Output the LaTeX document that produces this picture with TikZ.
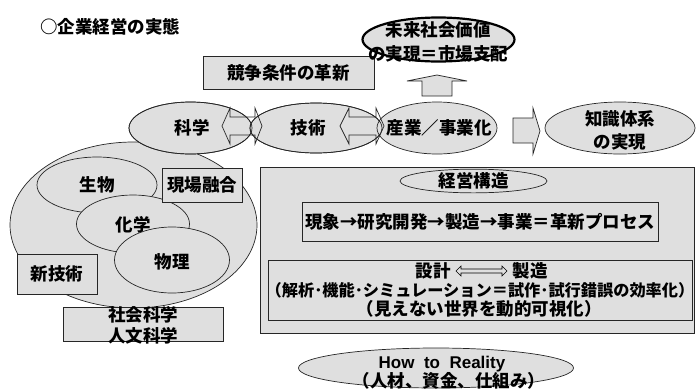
\documentclass[tikz,border=0pt]{standalone}
\usepackage{fontspec}
\setmainfont{Noto Sans CJK JP}
\newfontfamily\arial{Liberation Sans}
\usetikzlibrary{shapes.geometric}
\begin{document}
\begin{tikzpicture}[x=1pt,y=-1pt,
  every node/.style={font=\bfseries\fontsize{17.5}{21}\selectfont},
  ln/.style={draw=black!85,line width=0.7pt},
  gfill/.style={fill=gray!25},
  ell/.style={ellipse,ln,gfill,inner sep=0pt},
  box/.style={rectangle,ln,gfill,inner sep=0pt},
  frame/.style={rectangle,ln,inner sep=0pt},
  txt/.style={inner sep=0pt,align=center}]
\useasboundingbox (0,0) rectangle (696,389);

% title
\node[txt,anchor=west] (title) at (40,27) {○企業経営の実態};

% left cluster
\node[ell,minimum width=247pt,minimum height=166pt] (big) at (133.5,225) {};
\node[ell,minimum width=120pt,minimum height=56pt] (seibutsu) at (97,185) {生物};
\node[ell,minimum width=113pt,minimum height=58pt] (kagaku2) at (133,224) {};
\node[txt] (kagaku2t) at (133,225) {化学};
\node[ell,minimum width=115pt,minimum height=66pt] (butsuri) at (172,260) {};
\node[txt] (butsurit) at (172,262) {物理};
\node[box,minimum width=80pt,minimum height=34pt] (genba) at (202,185) {現場融合};
\node[box,minimum width=80pt,minimum height=40pt] (shingi) at (57,274) {新技術};
\node[box,minimum width=160pt,minimum height=34pt] (shakai) at (143,324) {};
\node[txt] (shakai1) at (143,315) {社会科学};
\node[txt] (shakai2) at (143,336) {人文科学};

% top row
\node[box,minimum width=171pt,minimum height=33pt] (kyoso) at (288.5,72.5) {競争条件の革新};
\node[ell,minimum width=123pt,minimum height=52pt] (kagaku) at (190.5,128) {};
\node[ell,minimum width=132pt,minimum height=50pt] (gijutsu) at (316,128) {};
\node[ell,minimum width=120pt,minimum height=52pt] (sangyo) at (437,128) {};
\draw[ln] (kagaku.center) ellipse [x radius=61.5, y radius=26];
\draw[ln] (gijutsu.center) ellipse [x radius=66, y radius=25];
\node[txt] (kagakut) at (192,128) {科学};
\node[txt] (gijutsut) at (308,128) {技術};
\node[txt] (sangyot) at (439,128) {産業／事業化};

% double arrows (outline only)
\draw[ln] (222,126) -- (230,108) -- (230,117) -- (255,117) -- (255,108) -- (262,126)
  -- (255,144) -- (255,135) -- (230,135) -- (230,144) -- cycle;
\draw[ln] (340,126) -- (349,108) -- (349,117) -- (376,117) -- (376,108) -- (384,126)
  -- (376,144) -- (376,135) -- (349,135) -- (349,144) -- cycle;

% future value
\node[ellipse,draw=black,line width=2.2pt,gfill,inner sep=0pt,minimum width=152pt,minimum height=44pt] (mirai) at (438.5,39.5) {};
\node[txt] (mirai1) at (438,30) {未来社会価値};
\node[txt] (mirai2) at (438,54) {の実現＝市場支配};

% up arrow
\draw[ln,gfill] (422,96) -- (422,81) -- (407,81) -- (437,75) -- (467,81) -- (452,81) -- (452,96) -- cycle;
% right arrow
\draw[ln,gfill] (513,118) -- (533,118) -- (533,108) -- (540,131) -- (533,154) -- (533,143) -- (513,143) -- cycle;

\node[ell,minimum width=150pt,minimum height=52pt] (chishiki) at (620,128) {};
\node[txt] (chishiki1) at (620,119) {知識体系};
\node[txt] (chishiki2) at (620,142) {の実現};

% management structure
\node[box,minimum width=434pt,minimum height=166pt] (keiei) at (477,250) {};
\node[ell,minimum width=147pt,minimum height=22pt] (kozo) at (473.5,181) {経営構造};
\node[frame,minimum width=356pt,minimum height=39pt] (process) at (480,221.5) {現象→研究開発→製造→事業＝革新プロセス};
\node[frame,minimum width=424pt,minimum height=60pt] (design) at (480,290) {};
\node[txt] (sekkei) at (433,271) {設計};
\node[txt] (seizo) at (530,271) {製造};
\draw[black,line width=0.6pt] (456,271) -- (461,266) -- (461,269) -- (502,269) -- (502,266) -- (507,271)
  -- (502,276) -- (502,273) -- (461,273) -- (461,276) -- cycle;
\node[txt,font=\bfseries\fontsize{16.2}{20}\selectfont] (design2) at (480,290) {（解析･機能･シミュレーション＝試作･試行錯誤の効率化）};
\node[txt] (design3) at (479,309) {（見えない世界を動的可視化）};

% how to reality
\node[ell,minimum width=275pt,minimum height=40pt] (how) at (436,368) {};
\node[txt,font=\arial\bfseries\fontsize{17}{20}\selectfont] (how1) at (442,364) {How\ \ to\ \ Reality};
\node[txt] (how2) at (449,381) {（人材、資金、仕組み）};
\end{tikzpicture}
\end{document}
